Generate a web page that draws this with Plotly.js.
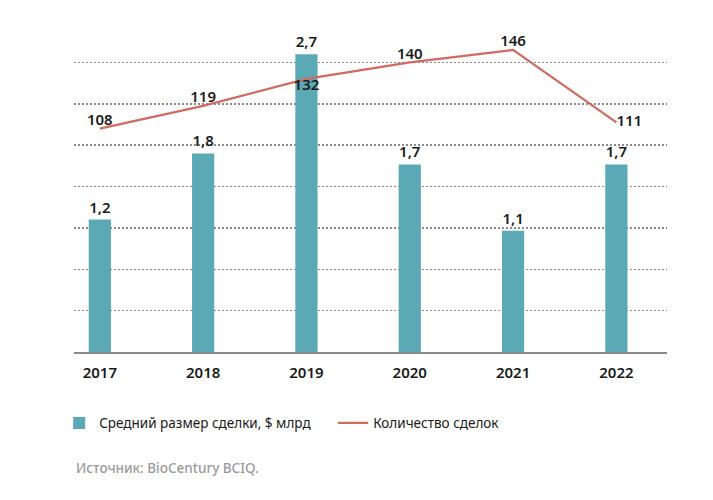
<!DOCTYPE html>
<html>
<head>
<meta charset="utf-8">
<script src="https://cdn.plot.ly/plotly-3.0.1.min.js"></script>
<style>html,body{margin:0;padding:0;background:#fff;}#chart{width:713px;height:500px;}</style>
</head>
<body>
<div id="chart"></div>
<script>
const years = ['2017', '2018', '2019', '2020', '2021', '2022'];
const avgDealSize = [1.2, 1.8, 2.7, 1.7, 1.1, 1.7];
const dealCount = [108, 119, 132, 140, 146, 111];
const barName = 'Средний размер сделки, $ млрд';
const lineName = 'Количество сделок';
const sourceText = 'Источник: BioCentury BCIQ.';

const FONT = 'Noto Sans, Open Sans, sans-serif';
const TEAL = '#5aa9b4';
const RED = '#d2695f';

const barTrace = {
  type: 'bar', x: years, y: avgDealSize, name: barName,
  marker: {color: TEAL}, width: 0.215,
  text: avgDealSize.map(v => v.toFixed(1).replace('.', ',')),
  textposition: 'outside', cliponaxis: false,
  textfont: {family: FONT, size: 15, color: '#1a1a1a', weight: 600},
  hoverinfo: 'skip'
};
const lineTrace = {
  type: 'scatter', mode: 'lines+text', x: years, y: dealCount, name: lineName,
  yaxis: 'y2',
  line: {color: RED, width: 2.2},
  text: dealCount.map(String),
  textposition: ['top center', 'top center', 'bottom center', 'top center', 'top center', 'middle right'],
  textfont: {family: FONT, size: 15, color: '#1a1a1a', weight: 600},
  cliponaxis: false, hoverinfo: 'skip'
};

const layout = {
  width: 713, height: 500,
  margin: {l: 74, r: 46, t: 21, b: 148},
  paper_bgcolor: '#fff', plot_bgcolor: '#fff',
  font: {family: FONT, color: '#1a1a1a'},
  showlegend: true,
  bargap: 0.5,
  xaxis: {
    type: 'category', range: [-0.25, 5.49],
    showline: true, linecolor: '#8a8a8a', linewidth: 1.5,
    showgrid: false, ticks: '', fixedrange: true,
    tickfont: {family: FONT, size: 15, color: '#1a1a1a', weight: 600},
    ticklabelstandoff: 6
  },
  yaxis: {
    range: [0, 3.0005], dtick: 0.375, tick0: 0,
    showticklabels: false, ticks: '', zeroline: false, showline: false,
    showgrid: true, gridcolor: '#8a8a8a', gridwidth: 1.5, griddash: '2px,2px'
  },
  yaxis2: {
    range: [0, 160], overlaying: 'y', side: 'right',
    showgrid: false, zeroline: false, showticklabels: false, ticks: '', showline: false
  },
  legend: {
    orientation: 'h', x: -0.025, xanchor: 'left', y: -0.215, yanchor: 'middle',
    font: {family: FONT, size: 13.5, color: '#1a1a1a'},
    entrywidth: 229, entrywidthmode: 'pixels',
    traceorder: 'normal'
  },
  annotations: [{
    text: sourceText, xref: 'paper', yref: 'paper', x: 0, y: -0.35,
    xanchor: 'left', yanchor: 'middle', showarrow: false,
    font: {family: FONT, size: 13.5, color: '#9a9a9a', weight: 500}
  }]
};

Plotly.newPlot('chart', [barTrace, lineTrace], layout, {displayModeBar: false, staticPlot: true});
</script>
</body>
</html>
